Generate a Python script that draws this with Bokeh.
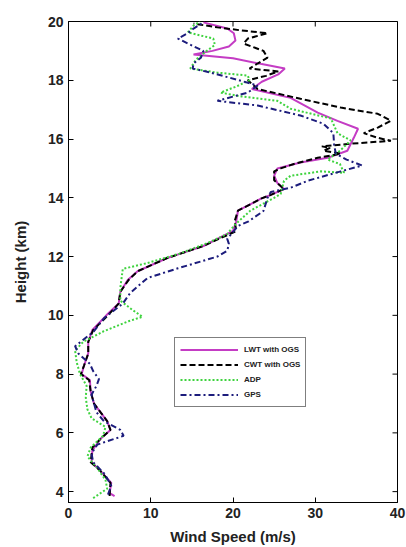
import math
from bokeh.plotting import figure
from bokeh.models import FixedTicker, Range1d
from bokeh.embed import file_html
from bokeh.resources import INLINE

# ---- data (height km, wind speed m/s) ----
lwt_h = [3.85, 3.95, 4.3, 4.7, 5.0, 5.4, 5.8, 6.1, 6.4, 6.7, 7.0, 7.4, 7.8, 8.0, 8.3, 8.7, 9.1, 9.5,
         10.0, 10.4, 10.8, 11.2, 11.5, 11.95, 12.36, 12.87, 13.2, 13.56, 13.97, 14.1, 14.3, 14.5, 14.75,
         15.0, 15.2, 15.36, 15.6, 16.05, 16.35, 16.62, 16.9, 17.4, 17.7, 17.95, 18.2, 18.4, 18.55, 18.75,
         18.88, 19.0, 19.15, 19.35, 19.6, 19.76, 19.97]
lwt_v = [5.6, 5.0, 5.2, 3.9, 2.8, 2.9, 3.9, 5.1, 4.7, 3.9, 3.1, 2.7, 2.6, 1.6, 1.9, 2.4, 2.4, 2.9,
         4.6, 6.1, 6.3, 7.2, 8.4, 12.0, 16.4, 20.0, 20.4, 20.6, 23.4, 24.6, 26.2, 25.4, 25.0,
         25.4, 28.2, 31.5, 33.9, 34.7, 35.2, 32.7, 30.3, 27.0, 22.3, 23.5, 25.5, 26.3, 23.5, 20.0,
         15.2, 17.5, 19.5, 20.3, 20.1, 19.3, 16.4]

cwt_h = [3.85, 4.3, 4.7, 5.0, 5.5, 5.8, 6.1, 6.4, 6.7, 7.0, 7.4, 7.8, 8.0, 8.3, 8.7, 9.1, 9.5,
         10.0, 10.4, 10.8, 11.2, 11.5, 11.95, 12.36, 12.87, 13.2, 13.56, 13.97, 14.1, 14.3, 14.6,
         14.9, 15.0, 15.15, 15.36, 15.5, 15.6, 15.7, 15.75, 15.84, 15.94, 16.04, 16.2, 16.39, 16.62,
         16.86, 17.07, 17.37, 17.7, 18.0, 18.15, 18.3, 18.4, 18.57, 18.77, 19.0, 19.25, 19.42, 19.6,
         19.7, 19.8, 19.93]
cwt_v = [5.0, 5.1, 3.9, 2.7, 2.9, 3.9, 5.1, 4.7, 3.9, 3.1, 2.7, 2.5, 1.5, 1.9, 2.4, 2.4, 3.0,
         4.8, 6.1, 6.3, 7.3, 8.4, 12.0, 16.4, 20.4, 20.2, 20.6, 23.4, 24.6, 26.2, 25.0,
         25.0, 25.8, 27.4, 30.3, 33.1, 31.0, 31.8, 30.8, 34.3, 39.2, 37.6, 35.9, 37.6, 39.2,
         37.6, 33.1, 28.2, 23.0, 21.8, 24.0, 25.5, 22.0, 23.0, 24.2, 23.7, 21.3, 21.8, 24.2,
         20.9, 18.1, 15.2]

adp_h = [3.78, 4.1, 4.4, 4.8, 5.2, 5.5, 5.9, 6.2, 6.5, 6.8, 7.2, 7.6, 8.0, 8.4, 8.8, 9.1, 9.46,
         9.8, 9.95, 10.2, 10.5, 10.93, 11.58, 11.78, 12.1, 12.46, 12.77, 13.1, 13.56, 14.0, 14.13,
         14.58, 14.75, 14.9, 14.85, 15.15, 15.3, 15.6, 15.95, 16.2, 16.7, 17.03, 17.3, 17.45, 17.58,
         17.8, 18.0, 18.16, 18.26, 18.4, 18.7, 19.0, 19.2, 19.42, 19.63, 19.86, 20.0]
adp_v = [3.0, 4.7, 4.5, 3.5, 2.3, 2.7, 4.2, 4.5, 2.8, 2.3, 2.1, 2.2, 1.4, 1.0, 0.8, 1.8, 4.3,
         7.3, 9.0, 7.7, 6.3, 6.3, 6.6, 9.6, 13.5, 16.9, 19.3, 20.3, 22.1, 25.0, 25.8,
         26.2, 27.0, 30.7, 33.5, 33.0, 31.5, 33.0, 34.3, 32.7, 31.9, 27.0, 25.4, 21.0, 18.5,
         20.5, 22.0, 21.8, 18.1, 14.8, 15.5, 16.8, 17.8, 17.6, 14.5, 15.2, 16.0]

gps_h = [3.9, 4.2, 4.6, 5.0, 5.3, 5.6, 5.9, 6.1, 6.4, 6.7, 7.0, 7.3, 7.6, 7.83, 8.1, 8.35, 8.7,
         8.95, 9.1, 9.46, 9.9, 10.4, 10.76, 11.27, 11.6, 12.0, 12.2, 12.43, 12.6, 13.04, 13.2,
         13.55, 14.0, 14.2, 14.34, 14.58, 14.9, 15.1, 15.3, 15.5, 15.8, 16.2, 16.52, 16.8, 17.14,
         17.3, 17.58, 17.82, 17.98, 18.26, 18.4, 18.57, 18.77, 19.0, 19.25, 19.42, 19.6, 19.76, 19.97]
gps_v = [4.8, 5.2, 4.4, 3.0, 2.8, 3.5, 6.7, 6.3, 4.3, 3.4, 3.1, 2.8, 3.4, 3.7, 3.0, 2.6, 1.2,
         0.8, 1.5, 3.1, 4.3, 6.6, 7.5, 9.6, 13.3, 18.1, 19.3, 19.5, 19.3, 20.6, 21.9,
         23.7, 24.2, 24.6, 27.0, 29.1, 33.1, 35.7, 33.8, 32.5, 32.3, 32.2, 31.0, 28.2, 23.0,
         18.1, 21.8, 23.0, 21.0, 17.3, 15.1, 15.2, 16.1, 16.4, 14.5, 13.3, 14.5, 15.2, 16.4]

x_ticks = [0, 10, 20, 30, 40]
y_ticks = [4, 6, 8, 10, 12, 14, 16, 18, 20]
x_min, x_max = 0, 40
y_min, y_max = 3.63, 20

FONT = "Liberation Sans"

p = figure(width=406, height=547, output_backend="svg", toolbar_location=None,
           x_range=Range1d(x_min, x_max), y_range=Range1d(y_min, y_max),
           min_border_left=68, min_border_right=9, min_border_top=21, min_border_bottom=45,
           background_fill_color="white", border_fill_color="white")
p.grid.visible = False
p.outline_line_color = "black"
p.outline_line_width = 1

p.line(lwt_v, lwt_h, line_color="#c43cc4", line_width=2, legend_label="LWT with OGS")
p.line(cwt_v, cwt_h, line_color="black", line_width=2, line_dash="6 3", legend_label="CWT with OGS")
p.line(adp_v, adp_h, line_color="#3fd33f", line_width=2, line_dash="2 2", legend_label="ADP")
p.line(gps_v, gps_h, line_color="#1c1c7c", line_width=2, line_dash="6 3 2 3", legend_label="GPS")

# mirrored inward ticks on top and right edges (half of each dash is clipped by the frame)
p.scatter(x_ticks, [y_max] * len(x_ticks), marker="dash", angle=math.pi / 2, size=10,
          line_color="black", line_width=1)
p.scatter([x_max] * len(y_ticks), y_ticks, marker="dash", angle=0, size=10,
          line_color="black", line_width=1)

for ax in (p.xaxis[0], p.yaxis[0]):
    ax.major_tick_in = 5
    ax.major_tick_out = 0
    ax.minor_tick_line_color = None
    ax.axis_line_color = "black"
    ax.major_tick_line_color = "black"
    ax.major_label_text_font = FONT
    ax.major_label_text_font_style = "bold"
    ax.major_label_text_font_size = "14px"
    ax.major_label_text_color = "#222222"
    ax.axis_label_text_font = FONT
    ax.axis_label_text_font_style = "bold"
    ax.axis_label_text_font_size = "15px"
    ax.axis_label_text_color = "#222222"

p.xaxis[0].ticker = FixedTicker(ticks=x_ticks)
p.yaxis[0].ticker = FixedTicker(ticks=y_ticks)
p.xaxis[0].axis_label = "Wind Speed (m/s)"
p.yaxis[0].axis_label = "Height (km)"
p.xaxis[0].major_label_standoff = 5
p.yaxis[0].major_label_standoff = 5
p.xaxis[0].axis_label_standoff = 7
p.yaxis[0].axis_label_standoff = 16

lg = p.legend[0]
lg.location = (106, 95)
lg.border_line_color = "black"
lg.border_line_width = 1
lg.background_fill_color = "white"
lg.background_fill_alpha = 1
lg.label_text_font = FONT
lg.label_text_font_style = "bold"
lg.label_text_font_size = "8px"
lg.label_text_color = "#222222"
lg.glyph_width = 58
lg.glyph_height = 13
lg.label_height = 13
lg.label_standoff = 6
lg.spacing = 2
lg.padding = 5
lg.margin = 0

open("out.html", "w").write(file_html(p, INLINE))
